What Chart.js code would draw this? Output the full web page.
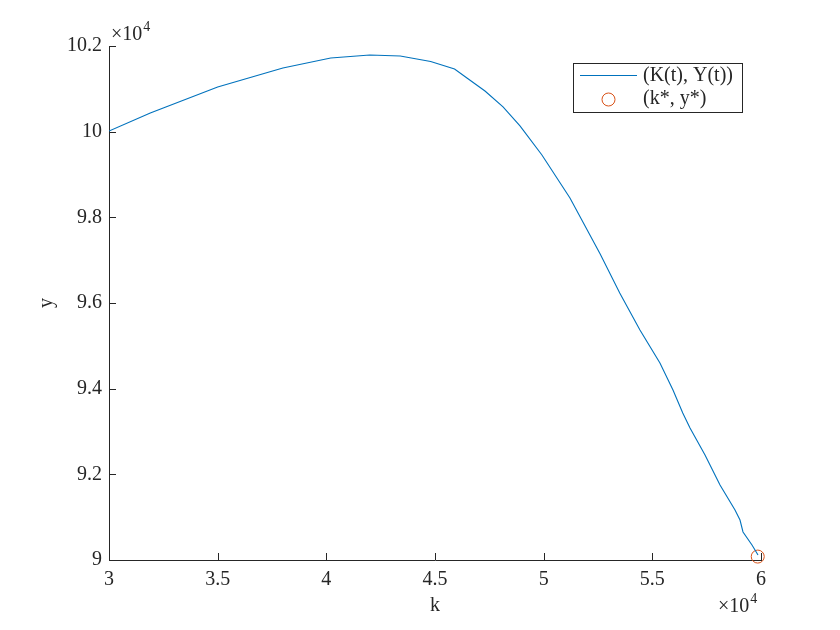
<!DOCTYPE html>
<html>
<head>
<meta charset="utf-8">
<script src="https://cdn.jsdelivr.net/npm/chart.js@4/dist/chart.umd.min.js"></script>
<style>
  html, body { margin: 0; padding: 0; background: #ffffff; }
  canvas { display: block; }
</style>
</head>
<body>
<canvas id="c" width="840" height="630"></canvas>
<script>
// ---- data ----
const kValues = [30000, 31900, 35000, 38000, 40200, 42000, 43400, 44800, 45900, 46470,
                 47300, 48130, 48910, 49920, 51210, 52600, 53500, 54430, 55350, 55950,
                 56400, 56734, 57424, 58114, 58804, 59034, 59172, 59586, 59862];
const yValues = [100016, 100437, 101044, 101487, 101721, 101791, 101767, 101640, 101464, 101254,
                 100950, 100577, 100133, 99456, 98452, 97144, 96234, 95370, 94600, 93969,
                 93432, 93082, 92452, 91751, 91167, 90934, 90654, 90350, 90117];
const steadyK = [59850];
const steadyY = [90080];
const seriesLabels = ['(K(t), Y(t))', '(k*, y*)'];
const xTickValues = [30000, 35000, 40000, 45000, 50000, 55000, 60000];
const yTickValues = [90000, 92000, 94000, 96000, 98000, 100000, 102000];
const axisTitles = { x: 'k', y: 'y' };
const exponentText = { base: '\u00d710', exp: '4' };

const FONT = "'Liberation Serif', 'Times New Roman', serif";
const TXT = '#262626';
const LINE_COLOR = '#0072BD';
const MARK_COLOR = '#D95319';

const curve = kValues.map((k, i) => ({ x: k, y: yValues[i] }));
const star = steadyK.map((k, i) => ({ x: k, y: steadyY[i] }));

const fmt = v => String(parseFloat((v / 10000).toFixed(2)));

const decorPlugin = {
  id: 'decor',
  afterDraw(chart) {
    const ctx = chart.ctx;
    const xs = chart.scales.x, ys = chart.scales.y;
    const area = chart.chartArea;
    ctx.save();
    // inward ticks
    ctx.strokeStyle = TXT;
    ctx.lineWidth = 1;
    ctx.beginPath();
    xTickValues.forEach(v => {
      const px = Math.round(xs.getPixelForValue(v)) + 0.5;
      ctx.moveTo(px, area.bottom);
      ctx.lineTo(px, area.bottom - 7);
    });
    yTickValues.forEach(v => {
      const py = Math.round(ys.getPixelForValue(v)) + 0.5;
      ctx.moveTo(area.left, py);
      ctx.lineTo(area.left + 7, py);
    });
    ctx.stroke();

    // exponent labels
    ctx.fillStyle = TXT;
    ctx.textBaseline = 'alphabetic';
    ctx.textAlign = 'left';
    function drawExp(x, y) {
      ctx.font = '20px ' + FONT;
      ctx.fillText(exponentText.base, x, y);
      const w = ctx.measureText(exponentText.base).width;
      ctx.font = '14px ' + FONT;
      ctx.fillText(exponentText.exp, x + w + 1, y - 9);
    }
    drawExp(area.left + 2, area.top - 6);
    drawExp(area.right - 43, area.bottom + 52);

    // legend
    const bx = 573.5, by = 63.5, bw = 169, bh = 49;
    ctx.fillStyle = '#ffffff';
    ctx.fillRect(bx, by, bw, bh);
    ctx.strokeStyle = TXT;
    ctx.lineWidth = 1;
    ctx.strokeRect(bx, by, bw, bh);
    // line sample
    ctx.strokeStyle = LINE_COLOR;
    ctx.beginPath();
    ctx.moveTo(580, 75.5);
    ctx.lineTo(637, 75.5);
    ctx.stroke();
    // marker sample
    ctx.strokeStyle = MARK_COLOR;
    ctx.beginPath();
    ctx.arc(608.5, 99.5, 6.5, 0, Math.PI * 2);
    ctx.stroke();
    ctx.fillStyle = TXT;
    ctx.font = '20px ' + FONT;
    ctx.textBaseline = 'middle';
    ctx.fillText(seriesLabels[0], 643, 76);
    ctx.fillText(seriesLabels[1], 643, 99);
    ctx.restore();
  }
};

new Chart(document.getElementById('c'), {
  type: 'scatter',
  data: {
    datasets: [
      {
        label: seriesLabels[0],
        data: curve,
        showLine: true,
        borderColor: LINE_COLOR,
        borderWidth: 1.1,
        pointRadius: 0,
        tension: 0,
        fill: false
      },
      {
        label: seriesLabels[1],
        data: star,
        showLine: false,
        clip: false,
        pointStyle: 'circle',
        pointRadius: 6.5,
        borderColor: MARK_COLOR,
        backgroundColor: 'rgba(0,0,0,0)',
        borderWidth: 1
      }
    ]
  },
  options: {
    responsive: false,
    animation: false,
    devicePixelRatio: 1,
    layout: { padding: { left: 0, top: 46, right: 79, bottom: 0 } },
    plugins: {
      legend: { display: false },
      tooltip: { enabled: false }
    },
    scales: {
      x: {
        type: 'linear',
        min: 30000, max: 60000,
        afterFit(s) { s.height = 70; },
        afterBuildTicks(s) { s.ticks = xTickValues.map(v => ({ value: v })); },
        grid: { display: true, drawOnChartArea: false, drawTicks: false, color: 'rgba(0,0,0,0)' },
        border: { display: true, color: TXT, width: 1 },
        ticks: {
          color: TXT, padding: 8, maxRotation: 0, autoSkip: false,
          font: { family: FONT, size: 20 },
          callback: v => fmt(v)
        },
        title: {
          display: true, text: axisTitles.x, color: TXT,
          font: { family: FONT, size: 20 },
          padding: { top: 0, bottom: 12 }
        }
      },
      y: {
        type: 'linear',
        min: 90000, max: 102000,
        afterFit(s) { s.width = 109; },
        afterBuildTicks(s) { s.ticks = yTickValues.map(v => ({ value: v })); },
        grid: { display: true, drawOnChartArea: false, drawTicks: false, color: 'rgba(0,0,0,0)' },
        border: { display: true, color: TXT, width: 1 },
        ticks: {
          color: TXT, padding: 7, autoSkip: false,
          font: { family: FONT, size: 20 },
          callback: v => fmt(v)
        },
        title: {
          display: true, text: axisTitles.y, color: TXT,
          font: { family: FONT, size: 20 },
          padding: { top: 35, bottom: 0 }
        }
      }
    }
  },
  plugins: [decorPlugin]
});
</script>
</body>
</html>
